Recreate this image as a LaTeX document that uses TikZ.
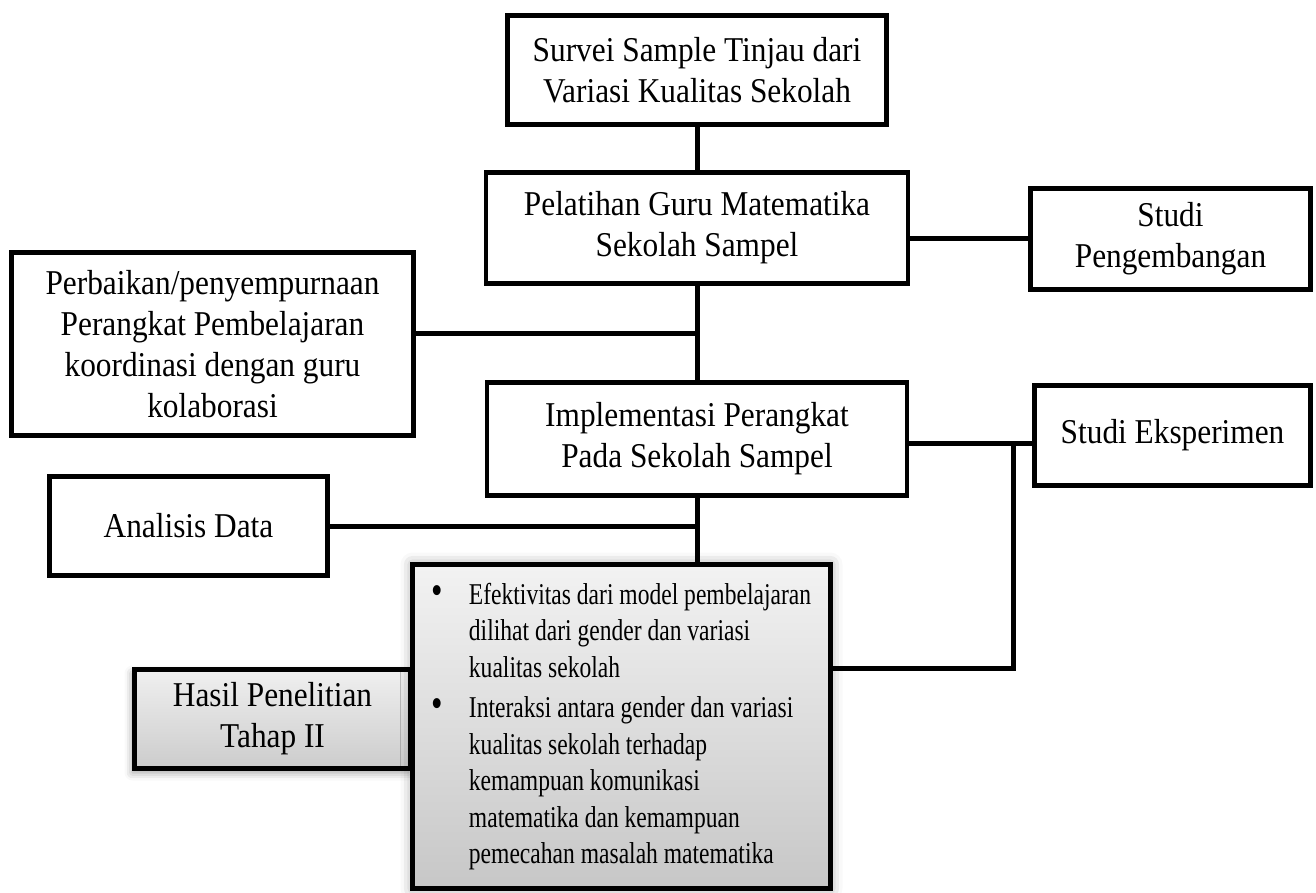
\documentclass[tikz,border=0pt]{standalone}
\usepackage{fontspec}
\setmainfont{Liberation Serif}
\newfontfamily\boxfont[FakeStretch=0.9]{Liberation Serif}
\newfontfamily\listfont[FakeStretch=0.78]{Liberation Serif}
\usetikzlibrary{shadows.blur}

\begin{document}
\begin{tikzpicture}[x=0.5pt, y=-0.5pt,
      box/.style={draw, line width=2.4pt, align=center, inner sep=0pt,
        font=\boxfont\fontsize{17.4}{20.5}\selectfont},
      greybox/.style={box, top color=gray!10, bottom color=gray!44},
      link/.style={line width=2.5pt}]
    \useasboundingbox (0,0) rectangle (1316,893);
    % main column
    \node[box, minimum width=189.5pt, minimum height=54.5pt] (survei) at (697,70)
      {Survei Sample Tinjau dari\\Variasi Kualitas Sekolah};
    \node[box, minimum width=211pt, minimum height=55.5pt] (latih) at (697,228)
      {Pelatihan Guru Matematika\\Sekolah Sampel};
    \node[box, minimum width=210pt, minimum height=56.5pt] (impl) at (697,439)
      {Implementasi Perangkat\\Pada Sekolah Sampel};
    % side boxes
    \node[box, minimum width=140pt, minimum height=50.5pt] (kembang) at (1170.5,239)
      {Studi\\Pengembangan};
    \node[box, minimum width=138pt, minimum height=50pt] (eksp) at (1172.5,435.5)
      {Studi Eksperimen};
    \node[box, minimum width=201pt, minimum height=91.5pt] (baiki) at (212.5,344)
      {Perbaikan/penyempurnaan\\Perangkat Pembelajaran\\koordinasi dengan guru\\kolaborasi};
    \node[box, minimum width=139pt, minimum height=49.5pt] (analisis) at (188.5,526)
      {Analisis Data};
    % results
    \node[greybox, top color=gray!12, bottom color=gray!40,
      blur shadow={shadow xshift=-1pt, shadow yshift=-2pt, shadow blur radius=4pt},
      minimum width=138pt, minimum height=49.5pt] (hasil) at (272.5,719)
      {Hasil Penelitian\\Tahap II};
    \node[greybox, align=left,
      blur shadow={shadow xshift=0pt, shadow yshift=0pt, shadow blur radius=6pt},
      minimum width=209pt, minimum height=162pt,
      font=\listfont\fontsize{15.1}{18.25}\selectfont] (result) at (621.5,726.5)
      {\begin{tabular}{@{}p{18.5pt}@{}l@{}}
        {\fontsize{21}{18}\selectfont\textbullet} & Efektivitas dari model pembelajaran\\
         & dilihat dari gender dan variasi\\
         & kualitas sekolah\\[2pt]
        {\fontsize{21}{18}\selectfont\textbullet} & Interaksi antara gender dan variasi\\
         & kualitas sekolah terhadap\\
         & kemampuan komunikasi\\
         & matematika dan kemampuan\\
         & pemecahan masalah matematika
      \end{tabular}};
    % connectors
    \coordinate (j1) at (697,333);
    \coordinate (j3) at (1013,443);
    \coordinate (j4) at (1013,668);
    \draw[link] (survei.south) -- (latih.north);
    \draw[link] (latih.south) -- (impl.north);
    \draw[link] (impl.south) -- (impl.south |- result.north);
    \draw[link] (kembang.west) -- (kembang.west -| latih.east);
    \draw[link] (j1) -- (j1 -| baiki.east);
    \draw[link] (analisis.east) -- (analisis.east -| impl.south);
    \draw[link] (impl.east |- j3) -- (eksp.west |- j3);
    \draw[link] (j3) -- (j4) -- (j4 -| result.east);
  \end{tikzpicture}
\end{document}
